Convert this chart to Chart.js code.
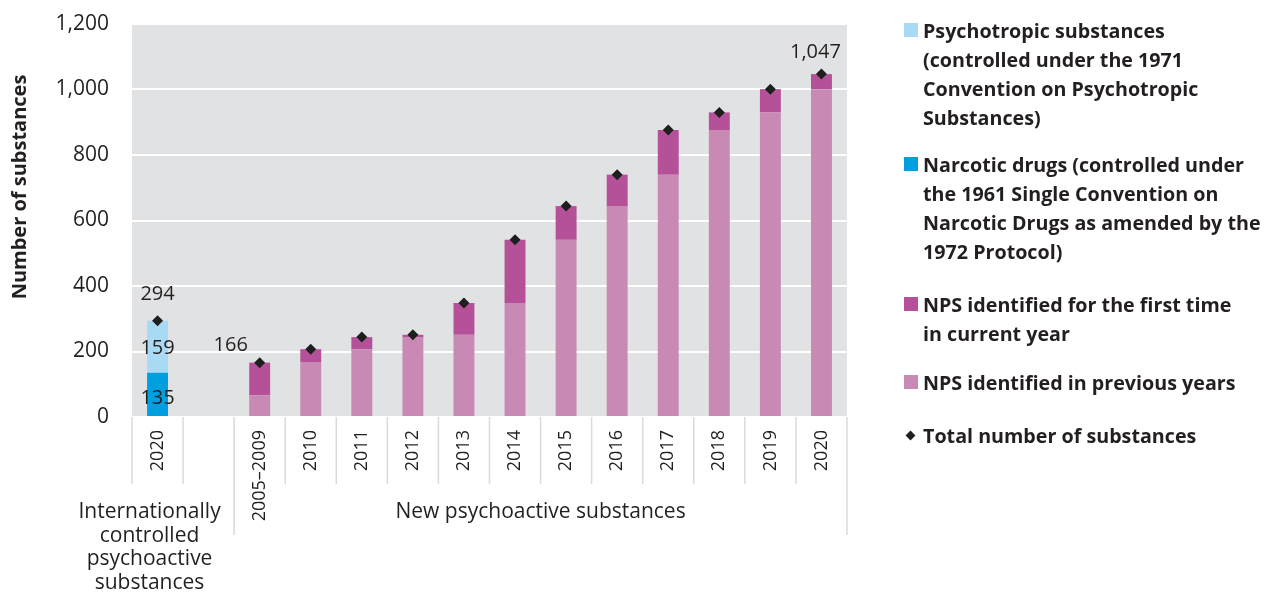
<!DOCTYPE html>
<html><head><meta charset="utf-8">
<script src="https://cdn.jsdelivr.net/npm/chart.js@4/dist/chart.umd.min.js"></script>
<style>
html,body{margin:0;padding:0;background:#fff;}
#wrap{position:relative;width:1264px;height:592px;overflow:hidden;}
canvas{position:absolute;left:0;top:0;}
.leg{position:absolute;left:904px;font:bold 19.7px "Open Sans",sans-serif;color:#231f20;line-height:29px;white-space:nowrap;}
.leg .box{position:absolute;left:0;top:7.5px;width:14px;height:14px;}
.leg .dia{position:absolute;left:3px;top:11px;width:7px;height:7px;background:#231f20;transform:rotate(45deg);}
.leg .txt{margin-left:19px;}
</style></head>
<body><div id="wrap"><canvas id="c" width="1264" height="592"></canvas><div id="legend"></div></div>
<script>
// ---- data ----
const categories = ['2020', '', '2005–2009', '2010', '2011', '2012', '2013', '2014', '2015', '2016', '2017', '2018', '2019', '2020'];
const narcoticDrugs = [135, null, null, null, null, null, null, null, null, null, null, null, null, null];
const psychotropicSubstances = [159, null, null, null, null, null, null, null, null, null, null, null, null, null];
const npsPreviousYears = [null, null, 66, 166, 207, 244, 251, 348, 541, 644, 740, 876, 930, 1001];
const npsFirstTime = [null, null, 100, 41, 37, 7, 97, 193, 103, 96, 136, 54, 71, 46];
const totalSubstances = [294, null, 166, 207, 244, 251, 348, 541, 644, 740, 876, 930, 1001, 1047];
const yTickValues = [0, 200, 400, 600, 800, 1000, 1200];
const groupNames = [['Internationally', 'controlled', 'psychoactive', 'substances'], ['New psychoactive substances']];
const groupStart = [0, 2];
const groupEnd = [1, 13];
const legendTexts = [
  ['Psychotropic substances', '(controlled under the 1971', 'Convention on Psychotropic', 'Substances)'],
  ['Narcotic drugs (controlled under', 'the 1961 Single Convention on', 'Narcotic Drugs as amended by the', '1972 Protocol)'],
  ['NPS identified for the first time', 'in current year'],
  ['NPS identified in previous years'],
  ['Total number of substances']
];

// ---- styles ----
const C_PSY = '#a9daf4', C_NAR = '#00a0e0', C_NEW = '#b55199', C_PREV = '#c88ab5';
const TXT = '#231f20';
const FONT = '"Open Sans", sans-serif';

const fmt = v => v.toLocaleString('en-US');

const bgPlugin = {
  id: 'bg',
  beforeDraw(chart) {
    const {ctx, chartArea: a} = chart;
    ctx.save();
    ctx.fillStyle = '#e1e2e4';
    ctx.fillRect(a.left, a.top, a.right - a.left, a.bottom - a.top);
    ctx.restore();
  }
};

const decoPlugin = {
  id: 'deco',
  afterDraw(chart) {
    const {ctx, chartArea: a, scales} = chart;
    const xs = scales.x, ys = scales.y;
    const n = categories.length;
    const step = xs.getPixelForValue(1) - xs.getPixelForValue(0);
    ctx.save();
    // separators below axis
    ctx.strokeStyle = '#dadada';
    ctx.lineWidth = 1.5;
    for (let k = 0; k <= n; k++) {
      const x = xs.getPixelForValue(0) - step / 2 + k * step;
      const long = groupStart.includes(k) && k > 0 || k === n;
      ctx.beginPath();
      ctx.moveTo(x, a.bottom);
      ctx.lineTo(x, a.bottom + (long ? 118 : 67));
      ctx.stroke();
    }
    // group labels
    ctx.fillStyle = TXT;
    ctx.font = '21px ' + FONT;
    ctx.textAlign = 'center';
    ctx.textBaseline = 'middle';
    const g0x = xs.getPixelForValue(groupStart[0]) - 8;
    groupNames[0].forEach((t, i) => ctx.fillText(t, g0x, 512 + i * 23.7));
    const g1x = (xs.getPixelForValue(groupStart[1]) + xs.getPixelForValue(groupEnd[1])) / 2;
    groupNames[1].forEach((t, i) => ctx.fillText(t, g1x, 512 + i * 23.7));
    // y axis title
    ctx.save();
    ctx.translate(20, 187);
    ctx.rotate(-Math.PI / 2);
    ctx.font = 'bold 20px ' + FONT;
    ctx.fillText('Number of substances', 0, 0);
    ctx.restore();
    // data labels
    ctx.font = '20px ' + FONT;
    const y = v => ys.getPixelForValue(v);
    const x0 = xs.getPixelForValue(0);
    ctx.fillText(fmt(totalSubstances[0]), x0, y(totalSubstances[0]) - 26);
    ctx.fillText(fmt(psychotropicSubstances[0]), x0, y(narcoticDrugs[0] + psychotropicSubstances[0] / 2) + 2);
    ctx.fillText(fmt(narcoticDrugs[0]), x0, y(narcoticDrugs[0] / 2) + 3);
    ctx.fillText(fmt(totalSubstances[2]), xs.getPixelForValue(2) - 29, y(totalSubstances[2]) - 17);
    ctx.fillText(fmt(totalSubstances[13]), xs.getPixelForValue(13) - 6, y(totalSubstances[13]) - 22);
    ctx.restore();
  }
};

const common = {stack: 'bars', categoryPercentage: 1, barPercentage: 0.41, borderWidth: 0};
new Chart(document.getElementById('c'), {
  data: {
    labels: categories,
    datasets: [
      {type: 'bar', label: 'Narcotic drugs', data: narcoticDrugs, backgroundColor: C_NAR, ...common, order: 2},
      {type: 'bar', label: 'Psychotropic substances', data: psychotropicSubstances, backgroundColor: C_PSY, ...common, order: 2},
      {type: 'bar', label: 'NPS identified in previous years', data: npsPreviousYears, backgroundColor: C_PREV, ...common, order: 2},
      {type: 'bar', label: 'NPS identified for the first time in current year', data: npsFirstTime, backgroundColor: C_NEW, ...common, order: 2},
      {type: 'line', label: 'Total number of substances', data: totalSubstances, stack: 'total', showLine: false,
       pointStyle: 'rectRot', pointRadius: 5.5, pointBackgroundColor: '#1e1e1e', pointBorderWidth: 0, order: 1}
    ]
  },
  options: {
    responsive: false,
    animation: false,
    devicePixelRatio: 1,
    layout: {autoPadding: false, padding: {left: 4, right: 417, top: 24, bottom: 0}},
    plugins: {legend: {display: false}, tooltip: {enabled: false}},
    scales: {
      x: {
        stacked: true,
        grid: {display: false},
        border: {display: false},
        ticks: {minRotation: 90, maxRotation: 90, autoSkip: false, padding: 5, color: TXT, font: {family: FONT, size: 18}},
        afterFit(s) { s.height = 175; s.paddingLeft = 0; s.paddingRight = 0; }
      },
      y: {
        stacked: true,
        min: 0, max: 1200,
        afterBuildTicks(s) { s.ticks = yTickValues.map(v => ({value: v})); },
        grid: {color: '#ffffff', lineWidth: 2, drawTicks: false},
        border: {display: false},
        ticks: {padding: 23, color: TXT, font: {family: FONT, size: 21}, callback: v => fmt(v)},
        afterFit(s) { s.width = 128; s.paddingTop = 0; s.paddingBottom = 0; }
      }
    }
  },
  plugins: [bgPlugin, decoPlugin]
});

// ---- HTML legend ----
const legendTops = [30, 164, 304, 382, 435];
const legendColors = [C_PSY, C_NAR, C_NEW, C_PREV, null];
const lg = document.getElementById('legend');
legendTexts.forEach((lines, i) => {
  const d = document.createElement('div');
  d.className = 'leg';
  d.style.top = (legendTops[i] - 14.5) + 'px';
  const m = document.createElement('span');
  if (legendColors[i]) { m.className = 'box'; m.style.background = legendColors[i]; }
  else { m.className = 'dia'; }
  d.appendChild(m);
  const t = document.createElement('div');
  t.className = 'txt';
  t.innerHTML = lines.join('<br>');
  d.appendChild(t);
  lg.appendChild(d);
});
</script>
</body></html>
